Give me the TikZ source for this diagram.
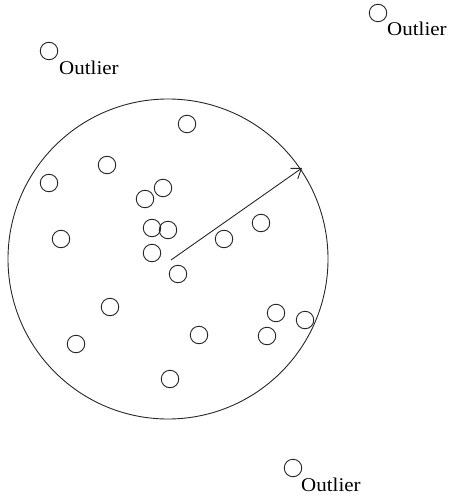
\documentclass[tikz,border=0pt]{standalone}
\usepackage{fontspec}
\setmainfont{Liberation Serif}[FakeStretch=1.08]
\usepackage{tikz}
\usetikzlibrary{arrows.meta,positioning,calc}
\tikzset{
  pt/.style={circle, draw=black!85, line width=0.9pt, minimum size=17.5bp, inner sep=0pt},
  outlbl/.style={font=\fontsize{19.5}{22}\selectfont, inner sep=0pt, anchor=base west},
  radarr/.style={-{Straight Barb[length=9bp,width=13bp]}, line width=0.9pt, draw=black!85},
}

\begin{document}
\begin{tikzpicture}[x=1bp, y=-1bp]
\useasboundingbox (0,0) rectangle (450,496);
\draw[line width=0.9pt, black!85] (168,259) circle (160);
\node[pt] (p1) at (187,124) {};
\node[pt] (p2) at (107,165) {};
\node[pt] (p3) at (49,183) {};
\node[pt] (p4) at (163,188) {};
\node[pt] (p5) at (145,199) {};
\node[pt] (p6) at (61,239) {};
\node[pt] (p7) at (152,228) {};
\node[pt] (p8) at (168,230) {};
\node[pt] (p9) at (152,253) {};
\node[pt] (p10) at (178,274) {};
\node[pt] (p11) at (224,239) {};
\node[pt] (p12) at (261,223) {};
\node[pt] (p13) at (110,307) {};
\node[pt] (p14) at (76,344) {};
\node[pt] (p15) at (199,335) {};
\node[pt] (p16) at (276,313) {};
\node[pt] (p17) at (305,320) {};
\node[pt] (p18) at (267,336) {};
\node[pt] (p19) at (170,379) {};
% radius
\coordinate (ctr) at (171,260);
\coordinate (rim) at (302,168);
\draw[radarr] (ctr) -- (rim);
% outliers
\node[pt] (o1) at (49,51) {};
\node[outlbl] (o1lbl) at (59,75) {Outlier};
\node[pt] (o2) at (378,13) {};
\node[outlbl] (o2lbl) at (387,36) {Outlier};
\node[pt] (o3) at (293,468) {};
\node[outlbl] (o3lbl) at (301,491) {Outlier};
\end{tikzpicture}
\end{document}
